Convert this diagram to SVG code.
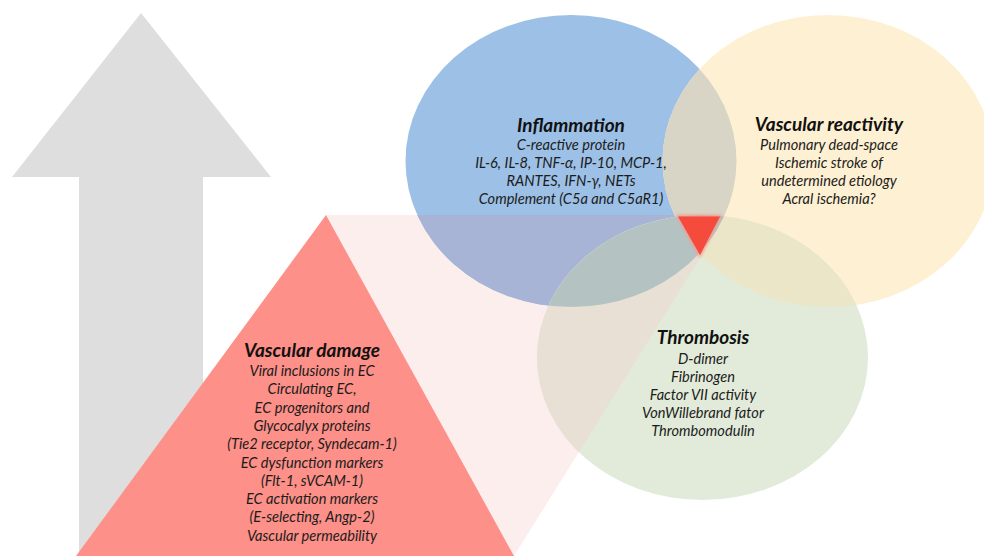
<svg xmlns="http://www.w3.org/2000/svg" width="984" height="556" viewBox="0 0 984 556">
  <style>
    .title { font-family: Lato, "Liberation Sans", sans-serif; font-style: italic; font-weight: bold; font-size: 19px; fill: #111; text-anchor: middle; }
    .item { font-family: Lato, "Liberation Sans", sans-serif; font-style: italic; font-size: 14.6px; fill: #1c1c1c; text-anchor: middle; }
  </style>
  <defs>
    <ellipse id="blueShape" cx="571" cy="161" rx="165.5" ry="146"/>
    <ellipse id="yellowShape" cx="828" cy="161" rx="165.5" ry="146"/>
    <ellipse id="greenShape" cx="702.5" cy="357.5" rx="165.5" ry="142.5"/>
    <polygon id="bandShape" points="326,215 677,215 700,258 514,556"/>
    <clipPath id="clipBlue"><use href="#blueShape"/></clipPath>
    <clipPath id="clipYellow"><use href="#yellowShape"/></clipPath>
    <clipPath id="clipGreen"><use href="#greenShape"/></clipPath>
    <filter id="soft" x="-30%" y="-30%" width="160%" height="160%">
      <feGaussianBlur stdDeviation="1.6"/>
    </filter>
  </defs>

  <g id="arrow">
    <polygon points="141,13 271,177 203,177 203,556 79,556 79,177 12,177" fill="#dedede"/>
  </g>

  <g id="connectors">
    <use href="#bandShape" fill="#fdeeee"/>
  </g>

  <g id="vascular-damage">
    <polygon points="326,215 514,556 76,556" fill="#fd9088"/>
    <text class="title" x="312" y="357">Vascular damage</text>
    <text class="item" x="312" y="376">Viral inclusions in EC</text>
    <text class="item" x="312" y="394.3">Circulating EC,</text>
    <text class="item" x="312" y="412.6">EC progenitors and</text>
    <text class="item" x="312" y="430.9">Glycocalyx proteins</text>
    <text class="item" x="312" y="449.2">(Tie2 receptor, Syndecam-1)</text>
    <text class="item" x="312" y="467.5">EC dysfunction markers</text>
    <text class="item" x="312" y="485.8">(Flt-1, sVCAM-1)</text>
    <text class="item" x="312" y="504.1">EC activation markers</text>
    <text class="item" x="312" y="522.4">(E-selecting, Angp-2)</text>
    <text class="item" x="312" y="540.7">Vascular permeability</text>
  </g>

  <g id="inflammation">
    <use href="#blueShape" fill="#9dc0e6"/>
    <use href="#bandShape" fill="#a8b4d6" clip-path="url(#clipBlue)"/>
  </g>

  <g id="vascular-reactivity">
    <use href="#yellowShape" fill="#fef0d2"/>
    <use href="#yellowShape" fill="#d8d4c6" clip-path="url(#clipBlue)"/>
  </g>

  <g id="thrombosis">
    <use href="#greenShape" fill="#e2ebd9"/>
    <use href="#greenShape" fill="#ebe6c8" clip-path="url(#clipYellow)"/>
    <use href="#bandShape" fill="#e8e0d5" clip-path="url(#clipGreen)"/>
    <use href="#greenShape" fill="#b4c3c2" clip-path="url(#clipBlue)"/>
  </g>

  <g id="core">
    <polygon points="676,215 722,215 700,258" fill="#f8968d" filter="url(#soft)"/>
    <polygon points="678,216.5 720,216.5 700,255" fill="#f44b3c"/>
  </g>

  <g id="labels">
    <text class="title" x="571" y="132">Inflammation</text>
    <text class="item" x="571" y="150">C-reactive protein</text>
    <text class="item" x="571" y="168">IL-6, IL-8, TNF-α, IP-10, MCP-1,</text>
    <text class="item" x="571" y="186">RANTES, IFN-γ, NETs</text>
    <text class="item" x="571" y="204">Complement (C5a and C5aR1)</text>

    <text class="title" x="829" y="131">Vascular reactivity</text>
    <text class="item" x="829" y="150">Pulmonary dead-space</text>
    <text class="item" x="829" y="168">Ischemic stroke of</text>
    <text class="item" x="829" y="186">undetermined etiology</text>
    <text class="item" x="829" y="204">Acral ischemia?</text>

    <text class="title" x="703" y="344">Thrombosis</text>
    <text class="item" x="703" y="364">D-dimer</text>
    <text class="item" x="703" y="382">Fibrinogen</text>
    <text class="item" x="703" y="400">Factor VII activity</text>
    <text class="item" x="703" y="418">VonWillebrand fator</text>
    <text class="item" x="703" y="436">Thrombomodulin</text>
  </g>
</svg>
